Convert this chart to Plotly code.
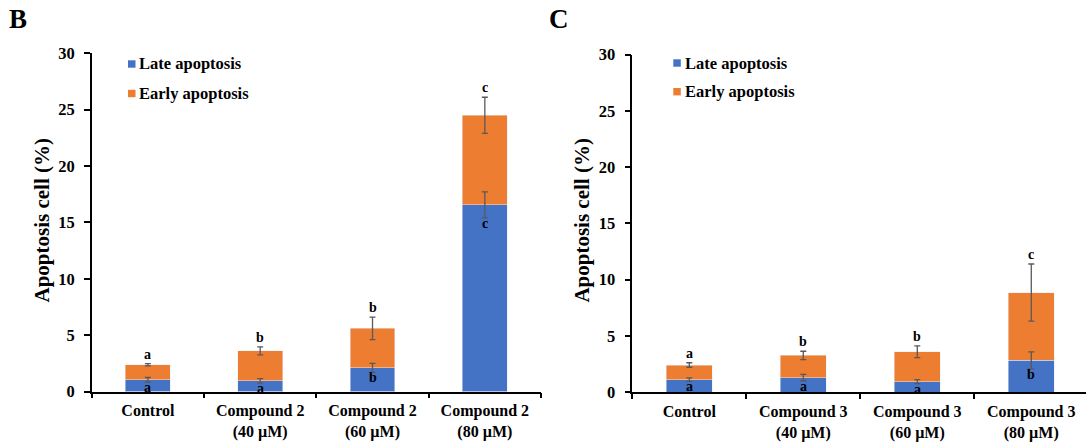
import plotly.graph_objects as go

W, H = 1086, 443

# ---------------- data ----------------
cats_b = ["Control", "Compound 2<br>(40 µM)", "Compound 2<br>(60 µM)", "Compound 2<br>(80 µM)"]
late_b = [1.04, 0.95, 2.1, 16.55]
late_err_b = [0.2, 0.2, 0.4, 1.15]
early_b = [1.34, 2.65, 3.5, 7.95]
early_err_b = [0.1, 0.36, 1.0, 1.6]
top_letters_b = ["a", "b", "b", "c"]
low_letters_b = ["a", "a", "b", "c"]

cats_c = ["Control", "Compound 3<br>(40 µM)", "Compound 3<br>(60 µM)", "Compound 3<br>(80 µM)"]
late_c = [1.1, 1.28, 0.92, 2.81]
late_err_c = [0.15, 0.28, 0.18, 0.75]
early_c = [1.3, 1.97, 2.66, 6.03]
early_err_c = [0.2, 0.37, 0.52, 2.54]
top_letters_c = ["a", "b", "b", "c"]
low_letters_c = ["a", "a", "a", "b"]

BLUE = "#4472C4"
ORANGE = "#ED7D31"
ERR = "#595959"
FONT = "Liberation Serif"

fig = go.Figure()


def px_x(p):
    return p / W


def px_y(p):
    return 1 - p / H


annotations = []
shapes = []


def add_panel(cats, late, late_err, early, early_err, top_l, low_l, xref, yref):
    totals = [l + e for l, e in zip(late, early)]
    fig.add_trace(go.Bar(x=cats, y=late, name="Late apoptosis", marker_color=BLUE,
                         width=0.4, showlegend=False, xaxis=xref, yaxis=yref))
    fig.add_trace(go.Bar(x=cats, y=early, name="Early apoptosis", marker_color=ORANGE,
                         width=0.4, showlegend=False, xaxis=xref, yaxis=yref))
    # error bars drawn on top of both stacked segments
    err_style = dict(type="data", color=ERR, thickness=1.3, width=3)
    fig.add_trace(go.Scatter(x=cats, y=late, mode="markers", marker=dict(size=1, opacity=0),
                             showlegend=False, hoverinfo="skip", xaxis=xref, yaxis=yref,
                             error_y=dict(array=late_err, **err_style)))
    fig.add_trace(go.Scatter(x=cats, y=totals, mode="markers", marker=dict(size=1, opacity=0),
                             showlegend=False, hoverinfo="skip", xaxis=xref, yaxis=yref,
                             error_y=dict(array=early_err, **err_style)))
    for i, c in enumerate(cats):
        annotations.append(dict(x=c, y=totals[i] + early_err[i], xref=xref, yref=yref,
                                text=f"<b>{top_l[i]}</b>", showarrow=False, yanchor="bottom",
                                font=dict(family=FONT, size=14, color="black")))
        annotations.append(dict(x=c, y=late[i] - late_err[i], xref=xref, yref=yref,
                                text=f"<b>{low_l[i]}</b>", showarrow=False, yanchor="top",
                                yshift=4,
                                font=dict(family=FONT, size=14, color="black")))


add_panel(cats_b, late_b, late_err_b, early_b, early_err_b, top_letters_b, low_letters_b, "x", "y")
add_panel(cats_c, late_c, late_err_c, early_c, early_err_c, top_letters_c, low_letters_c, "x2", "y2")

# legends (drawn as keys + labels) and titles
legend_specs = [
    (128, 138.5, 64, BLUE, "Late apoptosis"),
    (128, 138.5, 93.5, ORANGE, "Early apoptosis"),
    (673.3, 685, 63, BLUE, "Late apoptosis"),
    (673.3, 685, 91.7, ORANGE, "Early apoptosis"),
]
for sx, tx, cy, col, txt in legend_specs:
    shapes.append(dict(type="rect", xref="paper", yref="paper",
                       x0=px_x(sx), x1=px_x(sx + 7.5), y0=px_y(cy + 3.7), y1=px_y(cy - 3.7),
                       fillcolor=col, line=dict(width=0)))
    annotations.append(dict(x=px_x(tx), y=px_y(cy), xref="paper", yref="paper",
                            text=f"<b>{txt}</b>", showarrow=False, xanchor="left", yanchor="middle",
                            xshift=-2,
                            font=dict(family=FONT, size=16.5, color="black")))

for xc in (41.5, 581.6):
    annotations.append(dict(x=px_x(xc), y=px_y(220), xref="paper", yref="paper",
                            text="<b>Apoptosis cell (%)</b>", textangle=-90, showarrow=False,
                            xanchor="center", yanchor="middle",
                            font=dict(family=FONT, size=21, color="black")))

for xc, yc, lab in ((18.3, 18.5, "B"), (558.5, 19, "C")):
    annotations.append(dict(x=px_x(xc), y=px_y(yc), xref="paper", yref="paper",
                            text=f"<b>{lab}</b>", showarrow=False,
                            xanchor="center", yanchor="middle",
                            font=dict(family=FONT, size=27, color="black")))

xcommon = dict(showline=True, linecolor="black", linewidth=1.5, ticks="outside",
               tickson="boundaries", ticklen=5, tickcolor="black", tickwidth=1.5,
               showgrid=False, zeroline=False, ticklabelstandoff=4,
               tickfont=dict(family=FONT, size=16, color="black"), fixedrange=True)
ycommon = dict(showline=True, linecolor="black", linewidth=1.5, ticks="outside",
               ticklen=6, tickcolor="black", tickwidth=1.5, showgrid=False, zeroline=False,
               range=[0, 30], dtick=5, ticklabelstandoff=6,
               tickfont=dict(family=FONT, size=16.5, color="black"),
               fixedrange=True)

fig.update_layout(
    width=W, height=H,
    margin=dict(l=0, r=0, t=0, b=0, autoexpand=False),
    paper_bgcolor="white", plot_bgcolor="white",
    barmode="stack",
    showlegend=False,
    xaxis=dict(domain=[px_x(91.7), px_x(541)], anchor="y", range=[-0.5, 3.5], **xcommon),
    yaxis=dict(domain=[px_y(391.5), px_y(53.3)], anchor="x", **ycommon),
    xaxis2=dict(domain=[px_x(632.3), 1.0], anchor="y2", range=[-0.5, 3.48], **xcommon),
    yaxis2=dict(domain=[px_y(392), px_y(54.5)], anchor="x2", **ycommon),
    annotations=annotations,
    shapes=shapes,
    font=dict(family=FONT, color="black"),
)
fig.update_xaxes(tickprefix="<b>", ticksuffix="</b>")
fig.update_yaxes(tickprefix="<b>", ticksuffix="</b>")

fig.write_html("out.html", config={"displayModeBar": False},
               post_script="document.body.style.margin='0';document.body.style.overflow='hidden';")
